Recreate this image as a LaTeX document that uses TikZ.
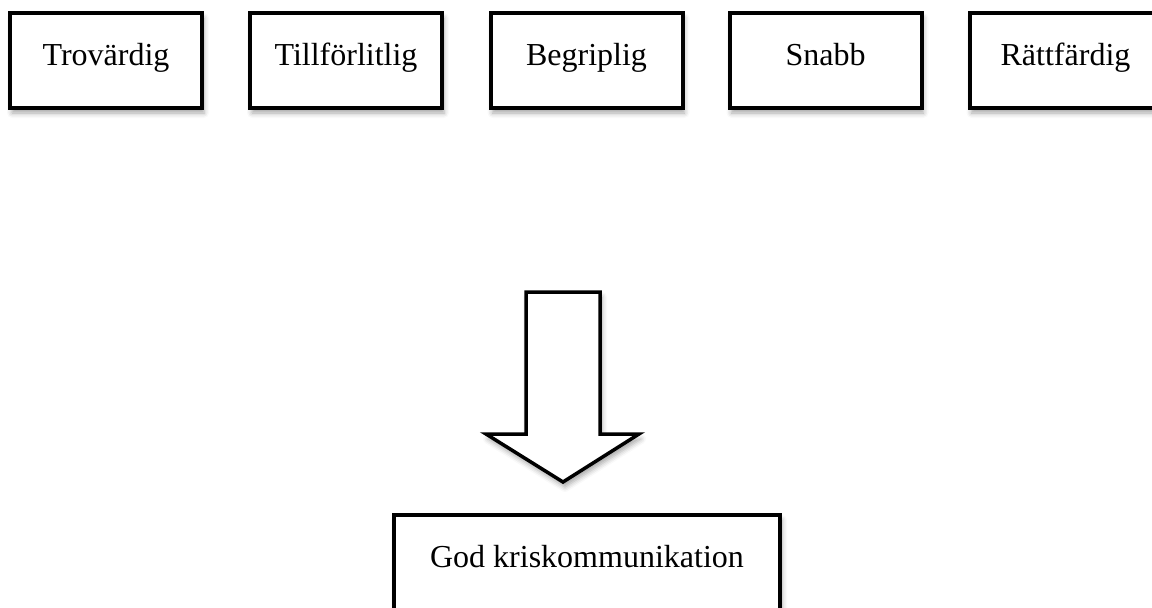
\documentclass[tikz,border=0pt]{standalone}
\usepackage{fontspec}
\setmainfont{Liberation Serif}
\usetikzlibrary{shadows.blur}
\begin{document}
\begin{tikzpicture}[x=1pt,y=-1pt,
  softshadow/.style={blur shadow={shadow xshift=2pt, shadow yshift=-5pt, shadow blur radius=5pt, shadow opacity=35}},
  topbox/.style={draw=black, line width=4pt, fill=white, softshadow,
    minimum width=192pt, minimum height=95pt, inner sep=0pt,
    font=\fontsize{32}{36}\selectfont, text height=35pt, text depth=26pt},
  bottombox/.style={topbox, minimum width=386pt, minimum height=100pt, text height=30pt, text depth=26pt},
  blockarrow/.style={draw=black, line width=3.5pt, fill=white, line join=miter, softshadow}]
\path[use as bounding box, clip] (0,0) rectangle (1152,608);
\node[topbox] (trov) at (106,60.5) {Trovärdig};
\node[topbox] (till) at (346,60.5) {Tillförlitlig};
\node[topbox] (begr) at (586.5,60.5) {Begriplig};
\node[topbox] (snab) at (825.5,60.5) {Snabb};
\node[topbox] (ratt) at (1065.5,60.5) {Rättfärdig};
\draw[blockarrow] (526,292) -- (600,292) -- (600,434) -- (639,434) -- (563,482) -- (486,434) -- (526,434) -- cycle;
\node[bottombox] (god) at (587,565) {God kriskommunikation};
\end{tikzpicture}
\end{document}
